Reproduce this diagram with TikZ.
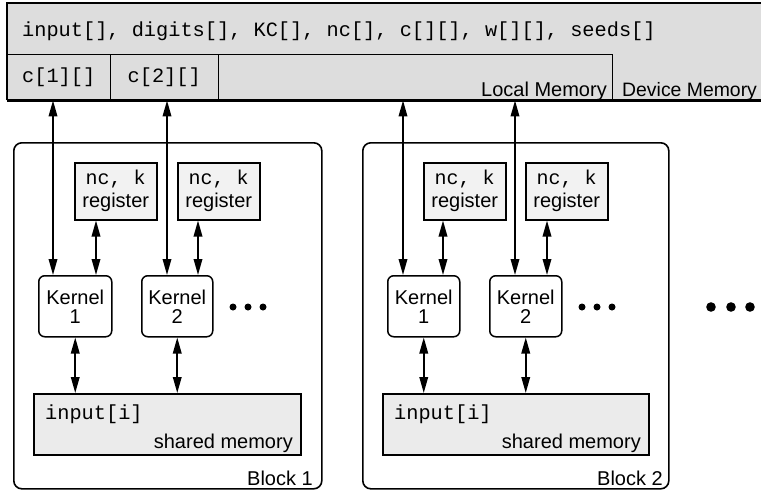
\documentclass[tikz,border=0pt]{standalone}
\usepackage{fontspec}
\setmainfont{Liberation Sans}
\setmonofont{Liberation Mono}
\usetikzlibrary{arrows.meta}
\definecolor{devfill}{RGB}{221,221,221}
\definecolor{regfill}{RGB}{242,242,242}
\definecolor{shfill}{RGB}{235,235,235}
\begin{document}
\begin{tikzpicture}[x=1pt,y=-1pt,
  every node/.style={font=\fontsize{20}{22}\selectfont, inner sep=0pt},
  area/.style={anchor=north west, draw=none, inner sep=0pt},
  blockbox/.style={anchor=north west, draw, line width=1.6pt, rounded corners=8pt},
  regbox/.style={anchor=north west, draw, line width=1.5pt, fill=regfill, align=center,
     font=\fontsize{20}{23}\selectfont},
  kernbox/.style={anchor=north west, draw, line width=1.5pt, rounded corners=6pt, fill=white,
     align=center, font=\fontsize{20}{19}\selectfont},
  shbox/.style={anchor=north west, draw, line width=1.5pt, fill=shfill},
  dbl/.style={{Triangle[length=16pt,width=8.5pt]}-{Triangle[length=16pt,width=8.5pt]}, line width=1.8pt},
  mono/.style={font=\fontsize{20.3}{22}\selectfont\ttfamily}
]
\useasboundingbox (0,0) rectangle (761,490);

% device memory
\node[area, minimum width=754pt, minimum height=97pt, fill=devfill] (dev) at (7,3) {};
\draw[line width=1.3pt] (dev.south west) -- (dev.north west) -- (dev.north east);
\node[area, minimum width=605pt, minimum height=46pt] (loc) at (7,54) {};
\draw[line width=1pt] (loc.north west) -- (loc.north east) -- (loc.south east);
\node[area, minimum width=103pt, minimum height=46pt, mono] (c1) at (7,54) {c[1][]};
\node[area, minimum width=108pt, minimum height=46pt, mono] (c2) at (110,54) {c[2][]};
\draw[line width=1pt] (c1.north east) -- (c1.south east);
\draw[line width=1pt] (c2.north east) -- (c2.south east);
\draw[line width=2.2pt] (dev.south west) -- (dev.south east);
\node[anchor=base west, mono] (vars) at (22,36) {input[], digits[], KC[], nc[], c[][], w[][], seeds[]};
\node[anchor=base east] (loclbl) at (607,96) {Local Memory};
\node[anchor=base west, font=\fontsize{19.4}{22}\selectfont] (devlbl) at (622,96) {Device Memory};

% blocks
\node[blockbox, minimum width=308pt, minimum height=346pt] (b1) at (13,142) {};
\node[blockbox, minimum width=306pt, minimum height=346pt] (b2) at (362,142) {};
\node[anchor=base east] (b1lbl) at (313,485) {Block 1};
\node[anchor=base east] (b2lbl) at (663,485) {Block 2};

% registers
\node[regbox, minimum width=82pt, minimum height=57pt] (r11) at (74,162) {{\ttfamily nc, k}\\register};
\node[regbox, minimum width=82pt, minimum height=57pt] (r12) at (177,162) {{\ttfamily nc, k}\\register};
\node[regbox, minimum width=82pt, minimum height=57pt] (r21) at (423,162) {{\ttfamily nc, k}\\register};
\node[regbox, minimum width=82pt, minimum height=57pt] (r22) at (525,162) {{\ttfamily nc, k}\\register};

% kernels
\node[kernbox, minimum width=73pt, minimum height=61pt] (k11) at (38,275) {Kernel\\1};
\node[kernbox, minimum width=71pt, minimum height=61pt] (k12) at (141,275) {Kernel\\2};
\node[kernbox, minimum width=72pt, minimum height=61pt] (k21) at (387,275) {Kernel\\1};
\node[kernbox, minimum width=72pt, minimum height=61pt] (k22) at (489,275) {Kernel\\2};

% shared memory
\node[shbox, minimum width=267pt, minimum height=61pt] (s1) at (33,393) {};
\node[shbox, minimum width=266pt, minimum height=61pt] (s2) at (382,393) {};
\node[anchor=base west, mono] (s1a) at (45,419) {input[i]};
\node[anchor=base east] (s1b) at (293,448) {shared memory};
\node[anchor=base west, mono] (s2a) at (394,419) {input[i]};
\node[anchor=base east] (s2b) at (641,448) {shared memory};

% arrows device memory <-> kernels
\coordinate (a11) at ([xshift=15pt]k11.north west);
\coordinate (a12) at ([xshift=26pt]k12.north west);
\coordinate (a21) at ([xshift=16pt]k21.north west);
\coordinate (a22) at ([xshift=26pt]k22.north west);
\foreach \a in {a11,a12,a21,a22}
  \draw[dbl] (dev.south -| \a) -- (\a);

% arrows registers <-> kernels
\coordinate (g11) at ([xshift=22pt]r11.south west);
\coordinate (g12) at ([xshift=21pt]r12.south west);
\coordinate (g21) at ([xshift=20pt]r21.south west);
\coordinate (g22) at ([xshift=22pt]r22.south west);
\draw[dbl] (g11) -- (g11 |- k11.north);
\draw[dbl] (g12) -- (g12 |- k12.north);
\draw[dbl] (g21) -- (g21 |- k21.north);
\draw[dbl] (g22) -- (g22 |- k22.north);

% arrows kernels <-> shared memory
\draw[dbl] (k11.south) -- (k11.south |- s1.north);
\draw[dbl] (k12.south) -- (k12.south |- s1.north);
\draw[dbl] (k21.south) -- (k21.south |- s2.north);
\draw[dbl] (k22.south) -- (k22.south |- s2.north);

% dots
\foreach \x in {233,248,263} \fill (\x,307) circle (3.5);
\foreach \x in {582,597,612} \fill (\x,307) circle (3.5);
\foreach \x in {711,731,750} \fill (\x,307) circle (4.8);
\end{tikzpicture}
\end{document}
